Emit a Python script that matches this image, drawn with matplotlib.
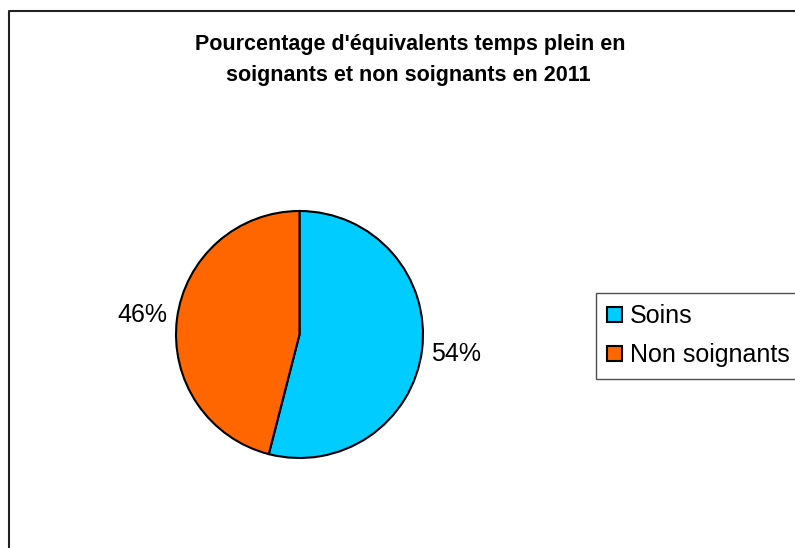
import matplotlib
matplotlib.use('Agg')
import matplotlib.pyplot as plt
from matplotlib.lines import Line2D

plt.rcParams['font.family'] = ['Liberation Sans', 'DejaVu Sans']

categories = ['Soins', 'Non soignants']
values = [54, 46]
colors = ['#00CCFF', '#FF6600']
title_lines = ["Pourcentage d'équivalents temps plein en",
               "soignants et non soignants en 2011"]

W, H = 795, 548
fig = plt.figure(figsize=(W / 100, H / 100), dpi=100)

# cadre du graphique (coupé à droite et en bas)
x0, y0 = 8.5 / W, 1 - 11 / H
fig.add_artist(Line2D([x0, x0, 1.0], [0.0, y0, y0], color='#222222', lw=1.5,
                      transform=fig.transFigure))

# titre
fig.text(410 / W, 1 - 50 / H, title_lines[0], ha='center', va='baseline',
         fontsize=15.5, fontweight='bold')
fig.text(408 / W, 1 - 81 / H, title_lines[1], ha='center', va='baseline',
         fontsize=15.5, fontweight='bold')

# camembert
cx, cy, r = 299.5, 334.5, 123.5
ax = fig.add_axes([(cx - r) / W, (H - cy - r) / H, 2 * r / W, 2 * r / H])
wedges, texts, autotexts = ax.pie(values, colors=colors, startangle=90,
                                  counterclock=False, autopct='%1.0f%%',
                                  pctdistance=1.28,
                                  wedgeprops=dict(edgecolor='black', linewidth=1.5),
                                  textprops=dict(fontsize=18))
ax.set_xlim(-1, 1)
ax.set_ylim(-1, 1)
ax.axis('off')

leg = fig.legend(wedges, categories, loc='upper left',
                 bbox_to_anchor=(596 / W, 1 - 293 / H), borderaxespad=0,
                 fontsize=18, handlelength=0.6, handleheight=0.55,
                 handletextpad=0.3, borderpad=0.45, labelspacing=0.6,
                 fancybox=False, frameon=True)
leg.get_frame().set_edgecolor('#222222')
leg.get_frame().set_linewidth(1.0)

fig.savefig('out.png', dpi=100, facecolor='white')
